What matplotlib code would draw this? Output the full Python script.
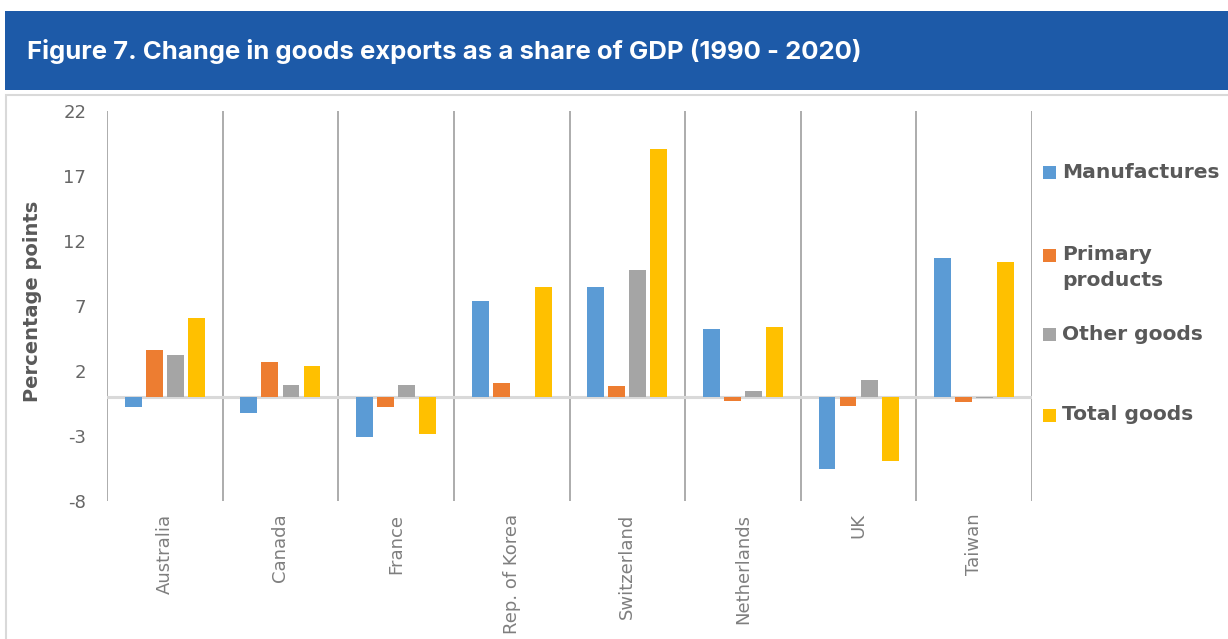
import matplotlib.pyplot as plt
from matplotlib.patches import Rectangle
import numpy as np

countries = ["Australia", "Canada", "France", "Rep. of Korea", "Switzerland",
             "Netherlands", "UK", "Taiwan"]
series = ["Manufactures", "Primary\nproducts", "Other goods", "Total goods"]
manufactures = [-0.75, -1.25, -3.1, 7.35, 8.45, 5.25, -5.5, 10.7]
primary = [3.65, 2.7, -0.8, 1.1, 0.85, -0.3, -0.7, -0.35]
other = [3.25, 0.95, 0.95, 0.0, 9.8, 0.45, 1.3, -0.05]
total = [6.1, 2.4, -2.85, 8.5, 19.1, 5.35, -4.95, 10.35]
yticks = [-8, -3, 2, 7, 12, 17, 22]

colors = ["#5b9bd5", "#ed7d31", "#a5a5a5", "#ffc000"]
text_grey = "#595959"
W, H = 1228, 639

fig = plt.figure(figsize=(W / 100, H / 100), dpi=100)

# header banner and chart frame
fig.add_artist(Rectangle((5 / W, 1 - 90 / H), 1 - 5 / W, 79 / H,
                         transform=fig.transFigure, color="#1d5aa8", lw=0))
fig.add_artist(Rectangle((6 / W, -0.01), 1.0, 1 - 95 / H + 0.01,
                         transform=fig.transFigure, fill=False,
                         edgecolor="#d9d9d9", lw=1.5))
fig.text(27 / W, 1 - 52 / H,
         "Figure 7. Change in goods exports as a share of GDP (1990 - 2020)",
         color="white", fontsize=18.5, fontweight="bold", family="Inter",
         va="center", ha="left")

ax = fig.add_axes([107 / W, 1 - 501 / H, (1032 - 107) / W, 390 / H])
x = np.arange(len(countries))
step = 0.182
for i, vals in enumerate([manufactures, primary, other, total]):
    ax.bar(x + (i - 1.5) * step, vals, width=0.146, color=colors[i], zorder=3)

ax.axhline(0, color="#d9d9d9", lw=2.2, zorder=2)
for b in np.arange(-0.5, len(countries) + 0.5, 1):
    ax.axvline(b, color="#a6a6a6", lw=1.3, zorder=1)

ax.set_xlim(-0.5, len(countries) - 0.5)
ax.set_ylim(-8, 22)
ax.set_yticks(yticks)
ax.set_yticklabels([str(t) for t in yticks], fontsize=13, color="#666666")
ax.set_xticks(x)
ax.set_xticklabels(countries, rotation=90, fontsize=13, color="#7f7f7f",
                   va="top")
ax.tick_params(axis="y", length=0, pad=15)
ax.tick_params(axis="x", length=0, pad=9)
for s in ax.spines.values():
    s.set_visible(False)

fig.text(33 / W, 1 - 301 / H, "Percentage points", rotation=90,
         fontsize=14, fontweight="bold", color=text_grey,
         ha="center", va="center")

# legend drawn by hand so the wrapped entry keeps its key on the first line
key_y = [173, 255, 334, 415]
for name, c, ky in zip(series, colors, key_y):
    fig.add_artist(Rectangle((1043 / W, 1 - (ky + 6.5) / H), 13 / W, 13 / H,
                             transform=fig.transFigure, color=c, lw=0))
    for j, line in enumerate(name.split("\n")):
        fig.text(1062 / W, 1 - (ky + 26 * j) / H, line, fontsize=14.6,
                 fontweight="bold", color=text_grey, ha="left",
                 va="center")

fig.savefig("out.png", dpi=100)
